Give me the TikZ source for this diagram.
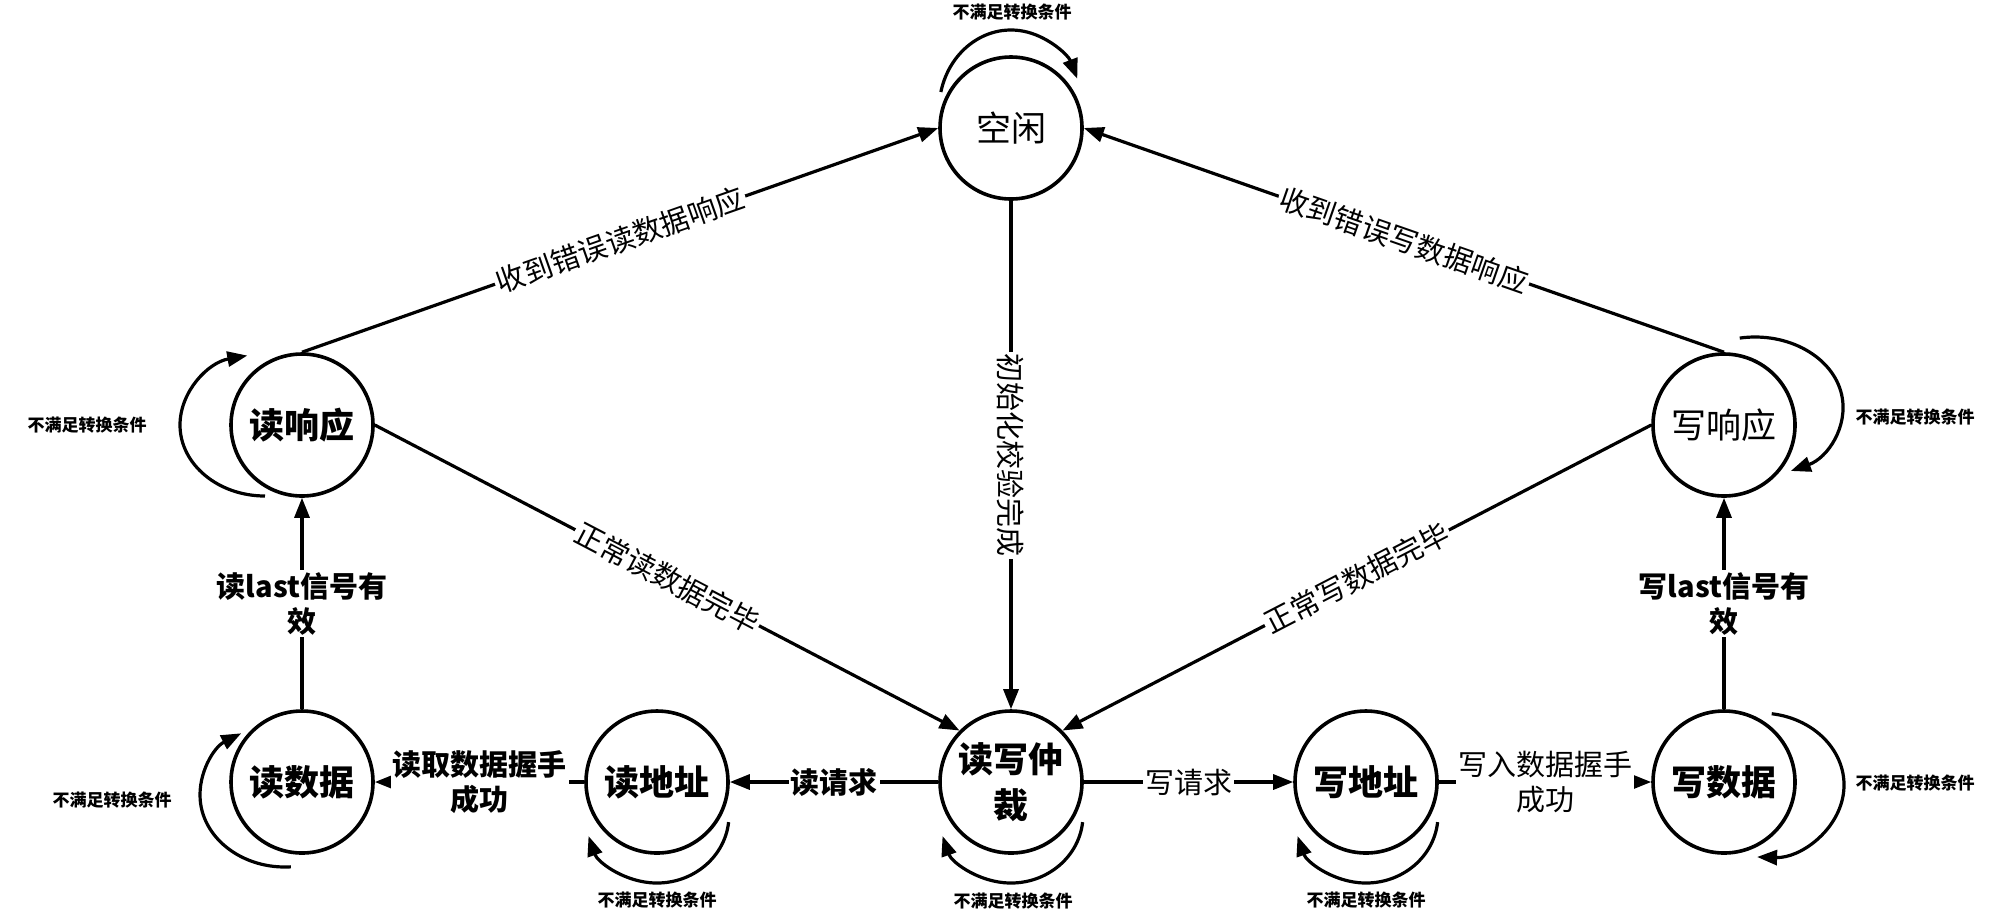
\documentclass[tikz,border=0pt]{standalone}
\usepackage{fontspec}
\setmainfont{Noto Sans CJK SC}
\usetikzlibrary{arrows.meta}
\begin{document}
\begin{tikzpicture}[x=0.5pt,y=-0.5pt,
  state/.style={circle,draw,line width=1.8pt,minimum size=71pt,inner sep=0pt,align=center,
    font=\fontsize{17.5}{23}\selectfont\bfseries},
  stater/.style={state,font=\fontsize{17.5}{23}\selectfont},
  arr/.style={line width=1.6pt,-{Triangle[length=10pt,width=7.5pt]}},
  lbl/.style={fill=white,inner sep=1pt,align=center,font=\fontsize{14.5}{17.5}\selectfont},
  lblb/.style={lbl,font=\fontsize{14.5}{17.5}\selectfont\bfseries},
  loopl/.style={inner sep=0pt,font=\fontsize{8.5}{10}\selectfont\bfseries},
  loopa/.style={line width=1.6pt,-{Triangle[length=10pt,width=7.5pt]}}
]
\useasboundingbox (0,0) rectangle (2000,912);

% states
\node[stater] (kx) at (1011,128) {空闲};
\node[state]  (dx) at (302,425)  {读响应};
\node[stater] (xx) at (1724,425) {写响应};
\node[state]  (ds) at (302,782)  {读数据};
\node[state]  (da) at (657,782)  {读地址};
\node[state]  (zc) at (1011,782) {读写仲\\裁};
\node[state]  (xa) at (1366,782) {写地址};
\node[state]  (xs) at (1724,782) {写数据};

% transitions
\draw[arr] (dx.north) -- node[lbl,sloped] {收到错误读数据响应} (kx.west);
\draw[arr] (xx.north) -- node[lbl,sloped] {收到错误写数据响应} (kx.east);
\draw[arr] (kx.south) -- node[lbl,rotate=-90] {初始化校验完成} (zc.north);
\draw[arr] (dx.east) -- node[lbl,sloped] {正常读数据完毕} (zc.north west);
\draw[arr] (xx.west) -- node[lbl,sloped] {正常写数据完毕} (zc.north east);
\draw[arr] (ds.north) -- node[lblb] {读last信号有\\效} (dx.south);
\draw[arr] (xs.north) -- node[lblb] {写last信号有\\效} (xx.south);
\draw[arr] (zc.west) -- node[lblb] {读请求} (da.east);
\draw[arr] (da.west) -- node[lblb] {读取数据握手\\成功} (ds.east);
\draw[arr] (zc.east) -- node[lbl] {写请求} (xa.west);
\draw[arr] (xa.east) -- node[lbl] {写入数据握手\\成功} (xs.west);

% self loops
\coordinate (ckx) at (1011,110);
\coordinate (cdx) at (265,425);
\coordinate (cxx) at (1755,407);
\coordinate (cds) at (285,795);
\coordinate (cda) at (657,815);
\coordinate (czc) at (1011,815);
\coordinate (cxa) at (1366,815);
\coordinate (cxs) at (1760,785);

\draw[loopa] ([shift={(193:72 and 80)}]ckx) arc[start angle=193,end angle=337,x radius=72,y radius=80];
\draw[loopa] ([shift={(90:85 and 71)}]cdx) arc[start angle=90,end angle=258,x radius=85,y radius=71];
\draw[loopa] ([shift={(-100:88 and 70)}]cxx) arc[start angle=-100,end angle=66,x radius=88,y radius=70];
\draw[loopa] ([shift={(86:85 and 72)}]cds) arc[start angle=86,end angle=239,x radius=85,y radius=72];
\draw[loopa] ([shift={(6:72 and 68)}]cda) arc[start angle=6,end angle=162,x radius=72,y radius=68];
\draw[loopa] ([shift={(6:72 and 68)}]czc) arc[start angle=6,end angle=162,x radius=72,y radius=68];
\draw[loopa] ([shift={(6:72 and 68)}]cxa) arc[start angle=6,end angle=162,x radius=72,y radius=68];
\draw[loopa] ([shift={(-82:84 and 72)}]cxs) arc[start angle=-82,end angle=92,x radius=84,y radius=72];

% loop labels
\node[loopl] (lkx) at (1012,12)  {不满足转换条件};
\node[loopl] (ldx) at (87,425)   {不满足转换条件};
\node[loopl] (lxx) at (1915,417) {不满足转换条件};
\node[loopl] (lds) at (112,800)  {不满足转换条件};
\node[loopl] (lda) at (657,900)  {不满足转换条件};
\node[loopl] (lzc) at (1013,901) {不满足转换条件};
\node[loopl] (lxa) at (1366,900) {不满足转换条件};
\node[loopl] (lxs) at (1915,783) {不满足转换条件};
\end{tikzpicture}
\end{document}
